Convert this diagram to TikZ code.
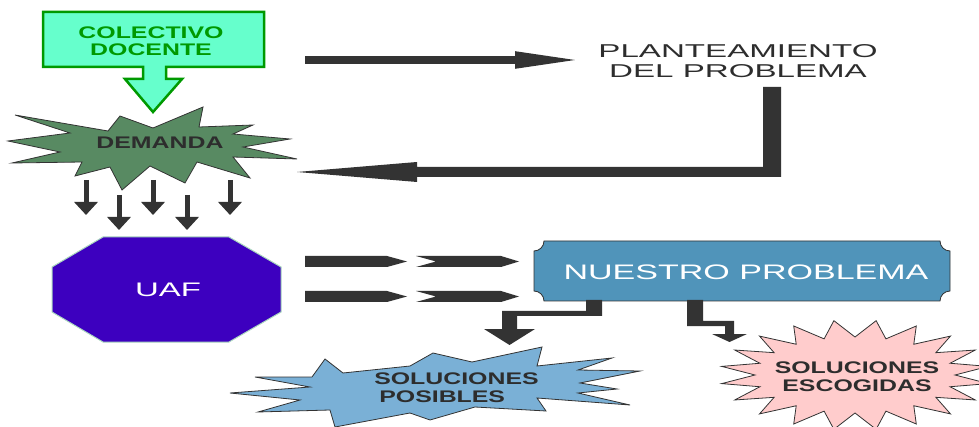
\documentclass[tikz,border=0pt]{standalone}
\usepackage{fontspec}
\setmainfont{Liberation Sans}
\usetikzlibrary{positioning, arrows.meta}

\definecolor{colfill}{RGB}{102,255,204}
\definecolor{colline}{RGB}{0,153,0}
\definecolor{demfill}{RGB}{88,138,98}
\definecolor{darkarrow}{RGB}{51,51,51}
\definecolor{uaffill}{RGB}{61,0,191}
\definecolor{uafline}{RGB}{170,215,190}
\definecolor{probfill}{RGB}{80,148,186}
\definecolor{posfill}{RGB}{122,176,214}
\definecolor{escfill}{RGB}{255,204,204}
\definecolor{textgray}{RGB}{45,45,45}

\begin{document}
\begin{tikzpicture}[x=1pt, y=-1pt]
            \tikzstyle{shapeline} = [draw=darkarrow, line width=0.8pt, line join=miter]
            \tikzstyle{blockarrow} = [fill=darkarrow]
            \tikzstyle{boldlabel} = [font=\fontsize{16.8}{17.5}\selectfont\bfseries, align=center, text=textgray, inner sep=0pt]
            \tikzstyle{thinlabel} = [align=center, inner sep=0pt]
            \tikzstyle{downarrow} = [darkarrow, line width=5pt, -{Triangle[length=13pt, width=23pt]}]

            \clip (0,0) rectangle (979,427);

            % colectivo docente
            \filldraw [fill=colfill, draw=colline, line width=2.5pt] (43,12) -- (264,12) -- (264,67) -- (166,67) -- (166,79) -- (182,79) -- (153,112) -- (125,79) -- (143,79) -- (143,67) -- (43,67) -- cycle;
            \node [boldlabel, text=colline, xscale=1.48] (colectivo) at (151,41) {COLECTIVO\\DOCENTE};

            % demanda
            \filldraw [shapeline, fill=demfill] (15,115) -- (108,131) -- (120,116) -- (153,128) -- (203,107) -- (199,127) -- (253,125) -- (233,134) -- (290,139) -- (243,147) -- (297,159) -- (233,157) -- (250,178) -- (197,162) -- (185,183) -- (150,166) -- (122,190) -- (110,167) -- (75,176) -- (82,162) -- (12,163) -- (60,152) -- (8,141) -- (70,133) -- cycle;
            \node [boldlabel, xscale=1.48] (demanda) at (160,143) {DEMANDA};

            \foreach \x/\y in {86/180, 119/195, 153/180, 187/195, 230/180}
                \draw [downarrow] (\x,\y) -- (\x,\y+35);

            % uaf
            \filldraw [fill=uaffill, draw=uafline, line width=1pt] (103,237) -- (229,237) -- (281,267) -- (281,312) -- (229,342) -- (103,342) -- (52,312) -- (52,267) -- cycle;
            \node [thinlabel, text=white, font=\fontsize{19.6}{20}\selectfont, xscale=1.68] (uaf) at (168,290) {UAF};

            % planteamiento
            \node [thinlabel, text=textgray, font=\fontsize{18.6}{20}\selectfont, xscale=1.78] (plant) at (738,61.5) {PLANTEAMIENTO\\DEL PROBLEMA};

            \coordinate (topstart) at (305,60);
            \coordinate (topend) at (585,60);
            \draw [darkarrow, line width=8pt, -{Triangle[length=70pt, width=15pt]}] (topstart) -- (topend);

            \fill [blockarrow] (763,87) -- (781,87) -- (781,177) -- (417,177) -- (417,182) -- (297,172) -- (417,162) -- (417,167) -- (763,167) -- cycle;

            % nuestro problema
            \filldraw [shapeline, fill=probfill] (544,241) -- (940,241) arc[start angle=180, end angle=90, radius=10] -- (950,291) arc[start angle=270, end angle=180, radius=10] -- (544,301) arc[start angle=0, end angle=-90, radius=10] -- (534,251) arc[start angle=90, end angle=0, radius=10] -- cycle;
            \node [thinlabel, text=white, font=\fontsize{21}{20}\selectfont, xscale=1.62] (nuestro) at (746,272) {NUESTRO PROBLEMA};

            \foreach \y in {261.5, 296.5} {
                \fill [blockarrow] (305,\y-5.5) -- (387,\y-5.5) -- (407,\y) -- (387,\y+5.5) -- (305,\y+5.5) -- cycle;
                \fill [blockarrow] (416,\y-5.5) -- (501,\y-5.5) -- (519,\y) -- (501,\y+5.5) -- (416,\y+5.5) -- (436,\y) -- cycle;
            }

            \fill [blockarrow] (586,300) -- (602,300) -- (602,316) -- (517,316) -- (517,329) -- (535,329) -- (509.5,345) -- (484,329) -- (502,329) -- (502,311) -- (586,311) -- cycle;
            \fill [blockarrow] (687,300) -- (703,300) -- (703,321) -- (734,321) -- (734,334) -- (747,334) -- (729.5,342) -- (712,334) -- (725,334) -- (725,326) -- (687,326) -- cycle;

            % soluciones posibles
            \filldraw [shapeline, fill=posfill] (325,359) -- (343,373) -- (410,366) -- (433,353) -- (472,362) -- (542,347) -- (537,366) -- (612,358) -- (578,370) -- (640,371) -- (580,383) -- (617,389) -- (578,393) -- (630,405) -- (537,398) -- (546,411) -- (475,407) -- (430,420) -- (410,413) -- (335,427) -- (330,410) -- (258,412) -- (300,400) -- (230,393) -- (310,387) -- (255,377) -- (312,377) -- cycle;
            \node [boldlabel, align=left, xscale=1.48] (posibles) at (456.5,387.5) {SOLUCIONES\\\hspace*{3.4pt}POSIBLES};

            % soluciones escogidas
            \filldraw [shapeline, fill=escfill] plot [samples=41, domain=0:40, variable=\k] ({855+(100+35*mod(\k,2))*cos(\k*9)}, {375+(38+17*mod(\k,2))*sin(\k*9)}) -- cycle;
            \node [boldlabel, xscale=1.48] (escogidas) at (857,376.5) {SOLUCIONES\\ESCOGIDAS};
        \end{tikzpicture}
\end{document}
